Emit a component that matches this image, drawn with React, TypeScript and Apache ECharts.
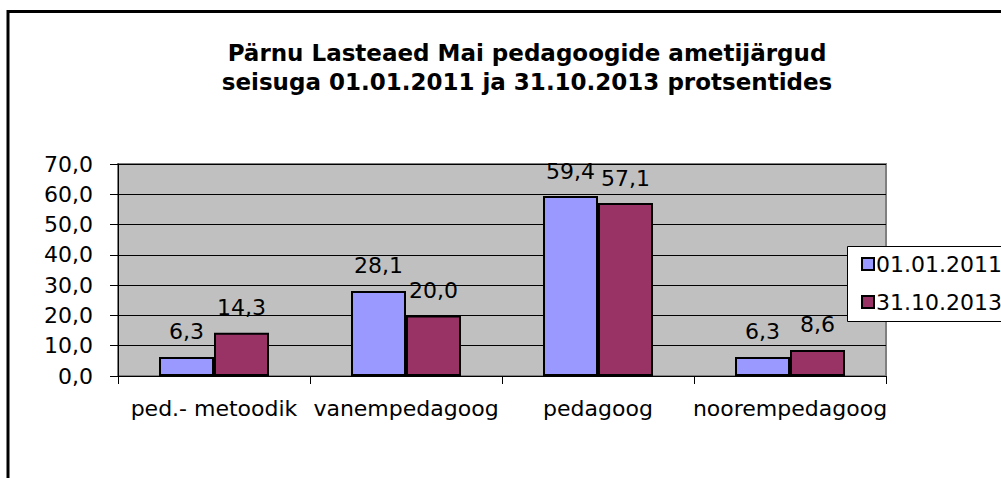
import React, { useEffect, useRef } from "react";
import * as echarts from "echarts";

const titleLines = [
  "Pärnu Lasteaed Mai pedagoogide ametijärgud",
  "seisuga 01.01.2011 ja 31.10.2013 protsentides",
];
const categories = ["ped.- metoodik", "vanempedagoog", "pedagoog", "noorempedagoog"];
const seriesNames = ["01.01.2011", "31.10.2013"];
const values2011 = [6.3, 28.1, 59.4, 6.3];
const values2013 = [14.3, 20.0, 57.1, 8.6];
const yTicks = { min: 0, max: 70, interval: 10 };

const FONT = "DejaVu Sans, Arial, sans-serif";
const fmt = (v: number) => v.toFixed(1).replace(".", ",");

export default function App() {
  const ref = useRef<HTMLDivElement>(null);
  useEffect(() => {
    document.body.style.margin = "0";
    const chart = echarts.init(ref.current!, null, { renderer: "svg" });
    const labelStyle = {
      show: true,
      position: "top" as const,
      distance: 14,
      fontFamily: FONT,
      fontSize: 22,
      color: "#000",
      formatter: (p: any) => fmt(p.value),
    };
    chart.setOption({
      animation: false,
      backgroundColor: "#fff",
      title: {
        text: titleLines.join("\n"),
        left: 522,
        top: 33,
        textAlign: "center",
        textStyle: {
          fontFamily: FONT,
          fontWeight: "bold",
          fontSize: 23,
          lineHeight: 29,
          color: "#000",
        },
      },
      grid: { left: 118, top: 164, width: 768, height: 212, containLabel: false, show: true, backgroundColor: "#C0C0C0", borderColor: "#808080", borderWidth: 2 },
      legend: {
        orient: "vertical",
        left: 847,
        top: 246,
        padding: [7, 10, 7, 14],
        itemWidth: 12,
        itemHeight: 12,
        itemGap: 16,
        icon: "rect",
        data: seriesNames,
        textStyle: { fontFamily: FONT, fontSize: 22, lineHeight: 22, color: "#000", padding: [0, 0, 0, -3] },
        z: 10,
      },
      graphic: [
        {
          type: "rect",
          z: 5,
          shape: { x: 847.5, y: 246.5, width: 200, height: 75 },
          style: { fill: "#fff", stroke: "#000", lineWidth: 1 },
        },
        {
          type: "rect",
          z: 20,
          shape: { x: 8, y: 11.5, width: 1100, height: 600 },
          style: { fill: "none", stroke: "#000", lineWidth: 3 },
        },
      ],
      xAxis: {
        type: "category",
        data: categories,
        axisLine: { lineStyle: { color: "#000", width: 1 } },
        axisTick: { show: true, length: 8, lineStyle: { color: "#000" } },
        axisLabel: { interval: 0, fontFamily: FONT, fontSize: 22, color: "#000", margin: 21 },
      },
      yAxis: {
        type: "value",
        min: yTicks.min,
        max: yTicks.max,
        interval: yTicks.interval,
        axisLine: { show: true, lineStyle: { color: "#000", width: 1 } },
        axisTick: { show: true, length: 8, lineStyle: { color: "#000" } },
        splitLine: { lineStyle: { color: "#000", width: 1 } },
        axisLabel: { fontFamily: FONT, fontSize: 22, color: "#000", margin: 25, formatter: (v: number) => fmt(v) },
      },
      series: [
        {
          name: seriesNames[0],
          type: "bar",
          data: values2011,
          barWidth: 55,
          barGap: "0%",
          itemStyle: { color: "#9999FF", borderColor: "#000", borderWidth: 2 },
          label: labelStyle,
        },
        {
          name: seriesNames[1],
          type: "bar",
          data: values2013,
          barWidth: 55,
          itemStyle: { color: "#993366", borderColor: "#000", borderWidth: 2 },
          label: labelStyle,
        },
      ],
    });
    return () => chart.dispose();
  }, []);
  return <div ref={ref} style={{ width: 1001, height: 478 }} />;
}
